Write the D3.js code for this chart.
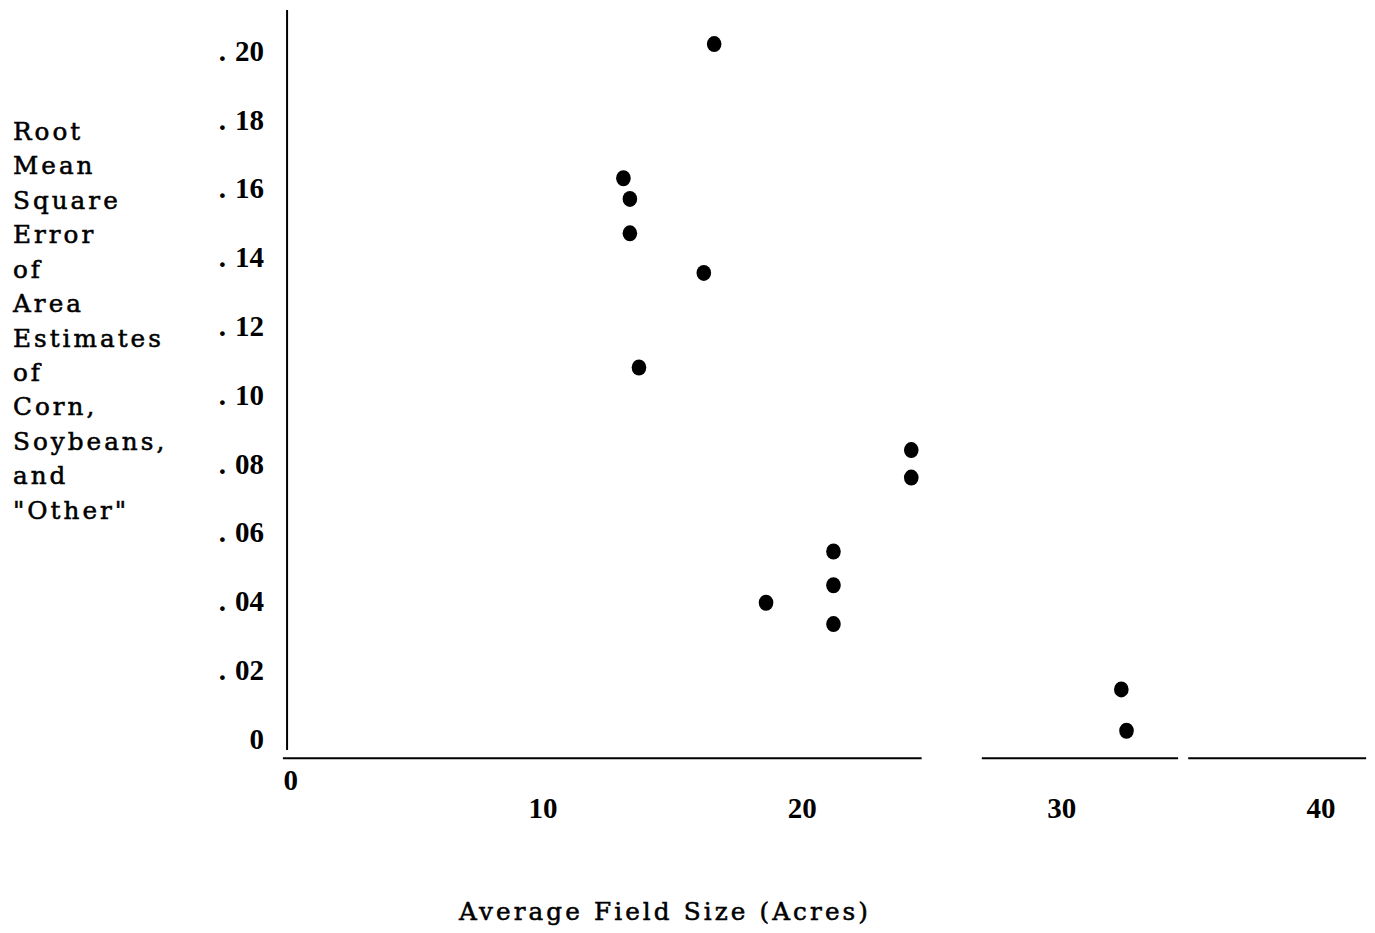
<!DOCTYPE html>
<html>
<head>
<meta charset="utf-8">
<script src="https://cdn.jsdelivr.net/npm/d3@7"></script>
<style>
  html, body { margin: 0; padding: 0; background: #fff; }
  svg { display: block; }
  text { fill: #000; }
  .words { font-family: "DejaVu Serif", "Liberation Serif", serif; stroke: #000; stroke-width: 0.55; }
  .nums { font-family: "Liberation Serif", "DejaVu Serif", serif; font-weight: bold; }
</style>
</head>
<body>
<svg id="chart" width="1375" height="933"></svg>
<script>
// Average field size (acres) and RMS error of area estimates
const fieldSize = [16.6, 13.1, 13.35, 13.35, 16.2, 13.7, 24.2, 24.2, 21.2, 21.2, 18.6, 21.2, 32.3, 32.5];
const rmsError  = [0.202, 0.163, 0.157, 0.147, 0.1355, 0.108, 0.084, 0.076, 0.0545, 0.0447, 0.0396, 0.0334, 0.0144, 0.0024];

const xTicks = [0, 10, 20, 30, 40];
const yTicks = [0, 0.02, 0.04, 0.06, 0.08, 0.10, 0.12, 0.14, 0.16, 0.18, 0.20];
const yTickLabels = ["0", ".02", ".04", ".06", ".08", ".10", ".12", ".14", ".16", ".18", ".20"];

// horizontal axis is drawn in three pieces (data units)
const xAxisPieces = [[-0.03, 24.6], [26.92, 34.49], [34.88, 41.74]];

const yTitleLines = ["Root", "Mean", "Square", "Error", "of", "Area", "Estimates", "of", "Corn,", "Soybeans,", "and", "\"Other\""];
const xTitle = "Average Field Size (Acres)";

const svg = d3.select("#chart");

const x = d3.scaleLinear().domain([0, 40]).range([283.7, 1321]);
const y = d3.scaleLinear().domain([0, 0.20]).range([739, 51]);

const yAxisX = x(0.13);
const yTop = y(0.2119);
const yBottom = y(-0.0032);
const xAxisY = y(-0.0056);

// vertical axis
svg.append("line")
  .attr("x1", yAxisX).attr("x2", yAxisX)
  .attr("y1", yTop).attr("y2", yBottom)
  .attr("stroke", "#000").attr("stroke-width", 2);

// horizontal axis pieces
svg.append("g").selectAll("line")
  .data(xAxisPieces)
  .join("line")
  .attr("x1", d => x(d[0])).attr("x2", d => x(d[1]))
  .attr("y1", xAxisY).attr("y2", xAxisY)
  .attr("stroke", "#000").attr("stroke-width", 2.2);

// y tick labels: leading point set apart from the digits
const yLab = svg.append("g").selectAll("text")
  .data(yTicks)
  .join("text")
  .attr("class", "nums")
  .attr("x", 264)
  .attr("y", d => y(d))
  .attr("dy", "0.34em")
  .attr("text-anchor", "end")
  .attr("font-size", 29);
yLab.each(function(d, i) {
  const s = yTickLabels[i];
  const t = d3.select(this);
  if (s.startsWith(".")) {
    t.append("tspan").text(".");
    t.append("tspan").attr("dx", 9).text(s.slice(1));
  } else {
    t.text(s);
  }
});

// x tick labels
svg.append("g").selectAll("text")
  .data(xTicks)
  .join("text")
  .attr("class", "nums")
  .attr("x", d => d === 0 ? x(d) + 7 : x(d))
  .attr("y", d => d === 0 ? 780 : 808)
  .attr("dy", "0.34em")
  .attr("text-anchor", "middle")
  .attr("font-size", 29)
  .text(d => d);

// points
svg.append("g").selectAll("ellipse")
  .data(fieldSize.map((v, i) => [v, rmsError[i]]))
  .join("ellipse")
  .attr("cx", d => x(d[0]))
  .attr("cy", d => y(d[1]))
  .attr("rx", 7.3)
  .attr("ry", 8)
  .attr("fill", "#000");

// y axis title, one word per line
svg.append("g").selectAll("text")
  .data(yTitleLines)
  .join("text")
  .attr("class", "words")
  .attr("x", 13)
  .attr("y", (d, i) => 131 + i * 34.45)
  .attr("dy", "0.36em")
  .attr("font-size", 24.7)
  .attr("letter-spacing", 3)
  .text(d => d);

// x axis title
svg.append("text")
  .attr("class", "words")
  .attr("x", 459)
  .attr("y", 911)
  .attr("dy", "0.36em")
  .attr("font-size", 24.7)
  .attr("textLength", 409)
  .attr("lengthAdjust", "spacing")
  .text(xTitle);
</script>
</body>
</html>
